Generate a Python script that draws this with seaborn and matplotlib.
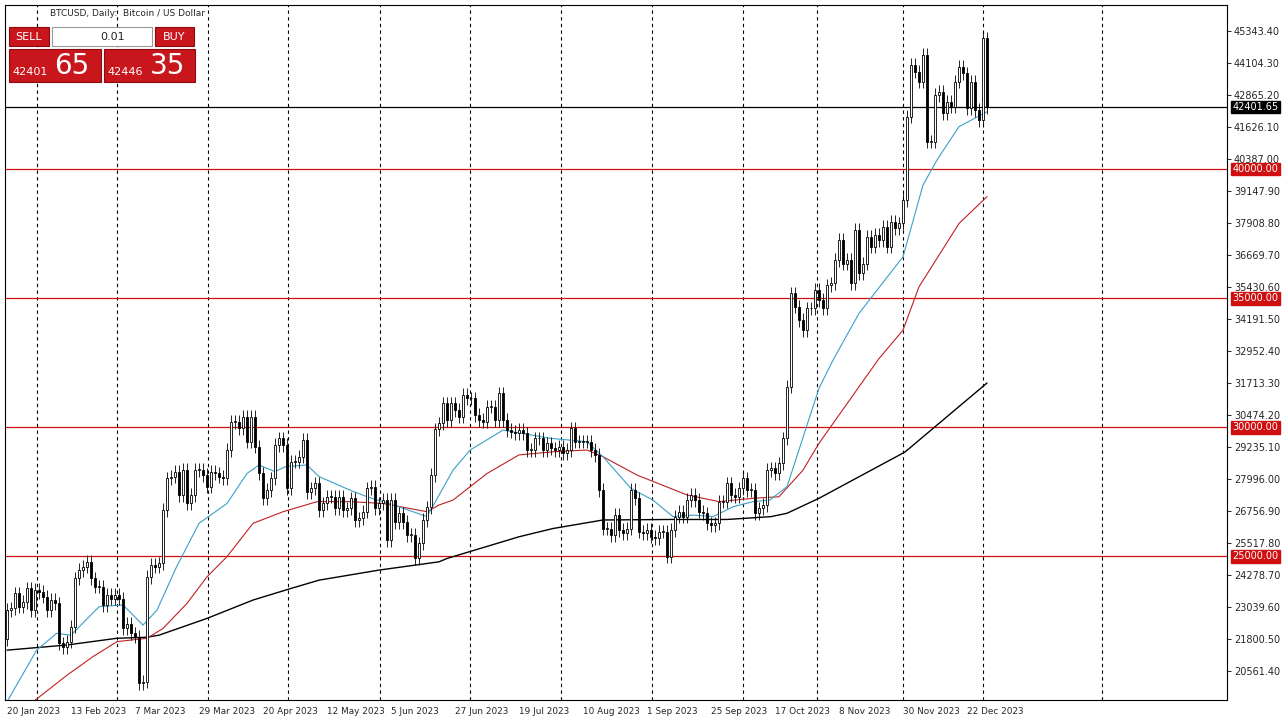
import numpy as np
import pandas as pd
import seaborn as sns
import matplotlib.pyplot as plt
from matplotlib.patches import Rectangle

# daily closes (one per bar, left to right)
closes = [21800, 22920, 22985, 23570, 23050, 23240, 23760, 22920, 23700, 23630, 23440, 22920, 23310, 23180,
          21630, 21500, 21700, 22280, 24150, 24470, 24600, 24790, 24150, 23830, 23830, 23120, 23500, 23370,
          23500, 23370, 22210, 22400, 22020, 21890, 20080, 20150, 24210, 24660, 24600, 24730, 26800, 28020,
          28090, 28280, 27370, 28350, 27050, 27370, 28340, 28340, 28150, 27700, 28280, 28210, 28090, 28020,
          29120, 30210, 30210, 29960, 30410, 29440, 30410, 29250, 28220, 27250, 27570, 28020, 29310, 29570,
          29310, 27640, 28670, 28670, 28860, 29510, 27500, 27640, 27830, 26800, 27050, 27310, 27310, 26860,
          27310, 26800, 26860, 27250, 26410, 26470, 26730, 27640, 27700, 26860, 27050, 27180, 25630, 27180,
          26340, 26670, 26340, 25830, 25830, 24920, 25500, 26410, 26900, 28150, 29920,
          30150, 30925, 30280, 30925, 30670, 30410, 31250, 31120, 31120, 30470, 30280, 30220, 30800, 30800,
          30280, 31310, 30280, 29890, 29830, 29760, 29890, 29760, 29120, 29120, 29570, 29570, 29120, 29380,
          29180, 29120, 29250, 28990, 29120, 29960, 29440, 29440, 29440, 29440, 29120, 28930, 27570, 26080,
          26080, 25830, 26600, 26020, 25890, 26080, 27570, 27250, 25960, 25890, 26020, 25760, 25700, 25960,
          25960, 24990, 26020, 26540, 26730, 26540, 27180, 27380, 27180, 26730, 26670, 26280, 26210, 26280,
          27120, 27120, 27830, 27380, 27310, 27640, 28020, 27570, 27570, 26670, 26860, 26990, 28340, 28410,
          28210, 28600, 29570, 31570,
          35180, 34670, 34150, 33760, 34600, 34600, 35310, 34930, 34600, 35500, 35570, 36470, 37250, 36340,
          36470, 35570, 37640, 35960, 36340, 37380, 36990, 37440, 37250, 37760, 36990, 37960, 37700, 37890,
          38800, 42030, 44030, 43770, 43380, 44410, 41060, 41060, 42860, 42990, 42150, 42600, 42410, 43380,
          43960, 43700, 42350, 43380, 42280, 41890, 45060, 42401.65]
first_open = 22280
wick = 260

# moving averages: (bar index, price)
ma_fast_idx = [0, 7.4, 12.4, 16, 23, 29, 34, 37.5, 42.4, 48, 55, 60, 63, 67, 69.5, 75, 78, 85.7, 90, 98, 105,
               111.5, 115.8, 124, 136, 145, 149, 156, 161.5, 166.5, 171.5, 176.5, 181.5, 186.5, 190.7, 195, 203,
               206.5, 213, 224, 229, 232.5, 238, 245]
ma_fast = [19370, 21370, 22020, 21950, 23050, 23120, 22340, 22920, 24600, 26280, 27050, 28210, 28540, 28280,
           28470, 28540, 28090, 27570, 27310, 26920, 26540, 28340, 29120, 29890, 29570, 29440, 28860, 27630,
           27180, 26540, 26600, 26540, 26920, 27120, 27180, 27700, 31510, 32600, 34410, 36600, 39380, 40350,
           41640, 42220]
ma_mid_idx = [6.5, 15, 21.5, 27.5, 35, 39, 45, 50, 55, 61.5, 69, 77.5, 85.7, 94, 105, 108, 111.5, 120, 128,
              136.5, 145, 149, 157.5, 170, 178, 186.5, 193, 199, 203, 218, 224, 228, 238, 245]
ma_mid = [19370, 20400, 21120, 21700, 21830, 22210, 23180, 24210, 24990, 26280, 26730, 27120, 27120, 27050,
          26730, 26990, 27180, 28210, 28930, 29050, 29120, 28860, 28150, 27380, 27120, 27250, 27310, 28340,
          29380, 32660, 33760, 35440, 37890, 38930]
ma_slow_idx = [0, 15, 27.5, 35, 38, 50, 61.5, 71, 78, 93, 108, 110, 128, 136.5, 149, 166, 180, 191, 195, 203,
               224.5, 245]
ma_slow = [21370, 21570, 21830, 21870, 21950, 22600, 23310, 23760, 24080, 24470, 24790, 24920, 25760, 26080,
           26410, 26430, 26430, 26540, 26670, 27250, 29042, 31714]

levels = [25000, 30000, 35000, 40000]
last_price = 42401.65
date_labels = ['20 Jan 2023', '13 Feb 2023', '7 Mar 2023', '29 Mar 2023', '20 Apr 2023', '12 May 2023',
               '5 Jun 2023', '27 Jun 2023', '19 Jul 2023', '10 Aug 2023', '1 Sep 2023', '25 Sep 2023',
               '17 Oct 2023', '8 Nov 2023', '30 Nov 2023', '22 Dec 2023']
grid_idx = [7.5, 27.5, 50.25, 70.25, 93.25, 115.75, 138.5, 161.25, 184, 202.5, 224, 244, 273.75]
price_ticks = [20561.4 + 1239.1 * k for k in range(21)]

sns.set_style('white')
plt.rcParams['font.family'] = ['DejaVu Sans']

n = len(closes)
x = np.arange(n) + (245 - (n - 1))
df = pd.DataFrame({'x': x, 'close': closes, 'open': [first_open] + closes[:-1]})
df['top'] = df[['open', 'close']].max(axis=1)
df['bot'] = df[['open', 'close']].min(axis=1)

fig = plt.figure(figsize=(12.87, 7.26), dpi=100)
ax = fig.add_axes([5 / 1287, 26 / 726, 1222 / 1287, 695 / 726])
ax.set_xlim(-0.5, 305)
ax.set_ylim(19440, 46350)

for gx in grid_idx:
    ax.axvline(gx, color='black', lw=0.8, ls=(0, (3, 3)), zorder=1)
for lv in levels:
    ax.axhline(lv, color='#d01010', lw=0.9, zorder=1)
ax.axhline(last_price, color='black', lw=0.9, zorder=1)

ax.vlines(df['x'], df['bot'] - wick, df['top'] + wick, color='black', lw=0.6, zorder=3)
up = df['close'] >= df['open']
ax.bar(df['x'][up], (df['top'] - df['bot'])[up].clip(lower=30), bottom=df['bot'][up], width=0.6,
       color='white', edgecolor='black', lw=0.6, zorder=4)
ax.bar(df['x'][~up], (df['top'] - df['bot'])[~up].clip(lower=30), bottom=df['bot'][~up], width=0.6,
       color='black', edgecolor='black', lw=0.6, zorder=4)

sns.lineplot(x=ma_slow_idx, y=ma_slow, ax=ax, color='black', lw=1.0, zorder=2)
sns.lineplot(x=ma_mid_idx, y=ma_mid, ax=ax, color='#c02020', lw=0.8, zorder=2)
sns.lineplot(x=ma_fast_idx, y=ma_fast, ax=ax, color='#3aa0c8', lw=0.8, zorder=2)

ax.yaxis.tick_right()
ax.set_yticks(price_ticks)
ax.set_yticklabels([f'{p:.2f}' for p in price_ticks], fontsize=7)
ax.set_xticks([16 * k for k in range(len(date_labels))])
ax.set_xticklabels(date_labels, fontsize=6.4, ha='left')
ax.tick_params(length=3, width=0.7, pad=2)
for s in ax.spines.values():
    s.set_color('black')
    s.set_linewidth(0.8)
ax.set_xlabel('')
ax.set_ylabel('')

for lv in levels:
    ax.annotate(f'{lv:.2f}', xy=(1, lv), xycoords=('axes fraction', 'data'), xytext=(4, 0),
                textcoords='offset points', va='center', fontsize=7, color='white',
                bbox=dict(boxstyle='square,pad=0.15', fc='#d01010', ec='#d01010'))
ax.annotate(f'{last_price:.2f}', xy=(1, last_price), xycoords=('axes fraction', 'data'), xytext=(4, 0),
            textcoords='offset points', va='center', fontsize=7, color='white',
            bbox=dict(boxstyle='square,pad=0.15', fc='black', ec='black'))

# header and trade panel
fig.text(50 / 1287, 1 - 14 / 726, 'BTCUSD, Daily:  Bitcoin / US Dollar', fontsize=6.5, va='center')
def box(x0, y0, w, h, fc, ec='#8a0c0c'):
    fig.patches.append(Rectangle((x0 / 1287, 1 - (y0 + h) / 726), w / 1287, h / 726,
                                 transform=fig.transFigure, fc=fc, ec=ec, lw=0.8))
box(9, 27, 40, 19, '#c8161c')
box(52, 27, 100, 19, 'white', '#999999')
box(155, 27, 39, 19, '#c8161c')
box(9, 49, 92, 33, '#c8161c')
box(104, 49, 91, 33, '#c8161c')
fig.text(29 / 1287, 1 - 37 / 726, 'SELL', fontsize=8, color='white', ha='center', va='center')
fig.text(174 / 1287, 1 - 37 / 726, 'BUY', fontsize=8, color='white', ha='center', va='center')
fig.text(125 / 1287, 1 - 37 / 726, '0.01', fontsize=8, ha='right', va='center')
fig.text(12 / 1287, 1 - 72 / 726, '42401', fontsize=8, color='white', va='center')
fig.text(54 / 1287, 1 - 66 / 726, '65', fontsize=20, color='white', va='center')
fig.text(107 / 1287, 1 - 72 / 726, '42446', fontsize=8, color='white', va='center')
fig.text(150 / 1287, 1 - 66 / 726, '35', fontsize=20, color='white', va='center')

fig.savefig('out.png', dpi=100)
